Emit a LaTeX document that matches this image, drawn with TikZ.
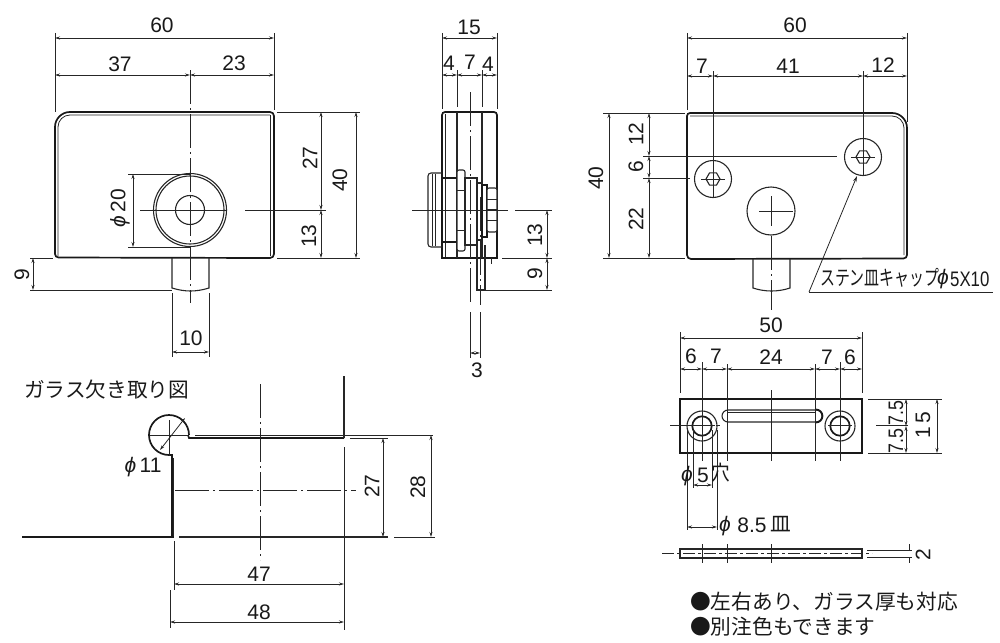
\documentclass[tikz,border=0pt]{standalone}
\usepackage{fontspec}
\setmainfont{Liberation Sans}
\newfontfamily\jpfont{Noto Sans CJK JP}
\usetikzlibrary{arrows.meta}
\newcommand{\myphi}{\textit{ϕ}}
\tikzset{
  thick line/.style={line width=1.7pt,black!90},
  mid line/.style={line width=1.1pt,black!85},
  thin line/.style={line width=0.8pt,black!85},
  axis line/.style={line width=0.8pt,black!85,dash pattern=on 34pt off 4pt on 2pt off 4pt},
  dimension/.style={line width=0.8pt,black!85,{Stealth[length=5pt,width=3pt]}-{Stealth[length=5pt,width=3pt]}},
  leader/.style={line width=0.8pt,black!85,-{Stealth[length=6pt,width=3.5pt]}},
  lbl/.style={inner sep=0pt,font=\fontsize{21}{24}\selectfont,text=black!90},
  vlbl/.style={lbl,rotate=90},
  jp/.style={inner sep=0pt,anchor=west,font=\fontsize{20.7}{24}\selectfont\jpfont,text=black!90}
}
\begin{document}
\begin{tikzpicture}[x=1pt,y=-1pt]
\useasboundingbox (0,0) rectangle (1000,642);
% ===== front view =====
\draw[thick line] (190,112) -- (70,112) arc[start angle=-90,end angle=-180,radius=15] -- (55,254) arc[start angle=-180,end angle=-270,radius=3.5] -- (270,258) arc[start angle=-270,end angle=-360,radius=4] -- (274,116) arc[start angle=0,end angle=-90,radius=4] -- (190,112);
\draw[thin line] (270,115) -- (70,115) arc[start angle=-90,end angle=-180,radius=12] -- (58,256);
\draw[thin line] (270,115) -- (270,256);
\draw[mid line] (190,210) circle[radius=36.5];
\draw[mid line] (190,210) circle[radius=34];
\draw[mid line] (190,210) circle[radius=14.5];
\draw[mid line] (172,258) -- (172,288) .. controls (185,292) and (196,292) .. (209,288) -- (209,258);
\draw[axis line] (190,70) -- (190,303);
\draw[thin line] (140,210) -- (226,210);
\draw[thin line] (245,210) -- (326,210);
\draw[dimension] (55,38) -- (274,38);
\draw[dimension] (55,75) -- (190,75);
\draw[dimension] (190,75) -- (274,75);
\draw[thin line] (55,33) -- (55,112);
\draw[thin line] (274,33) -- (274,110);
\draw[thin line] (277,112) -- (360,112);
\draw[thin line] (277,258) -- (360,258);
\draw[dimension] (321,112) -- (321,210);
\draw[dimension] (321,210) -- (321,258);
\draw[dimension] (356,112) -- (356,258);
\draw[thin line] (128,174) -- (190,174);
\draw[thin line] (128,247) -- (190,247);
\draw[dimension] (133,174) -- (133,247);
\draw[thin line] (30,258) -- (53,258);
\draw[thin line] (30,290) -- (172,290);
\draw[dimension] (33,258) -- (33,290);
\draw[thin line] (172,293) -- (172,357);
\draw[thin line] (209,293) -- (209,357);
\draw[dimension] (172,352) -- (209,352);
\node[lbl] (a60) at (162,25) {60};
\node[lbl] (a37) at (120,64) {37};
\node[lbl] (a23) at (234,63) {23};
\node[vlbl] (a27) at (310,158) {27};
\node[vlbl] (a40) at (340,180) {40};
\node[vlbl] (a13) at (309,236) {13};
\node[vlbl] (aphi) at (120,208) {\myphi\,20};
\node[vlbl] (a9) at (22,275) {9};
\node[lbl] (a10) at (191,338) {10};
% ===== side view =====
\draw[thick line] (442,258) -- (442,115) arc[start angle=-180,end angle=-90,radius=3] -- (494,112) arc[start angle=-90,end angle=0,radius=3] -- (497,258) -- cycle;
\draw[thin line] (445,114) -- (445,257);
\draw[mid line] (457,112) -- (457,258);
\draw[mid line] (482,112) -- (482,258);
\draw[mid line,rounded corners=3pt] (442,173) -- (428,173) -- (428,247) -- (442,247);
\draw[thin line] (432,174) -- (432,246);
\draw[thin line] (435,174) -- (435,246);
\draw[thick line] (442,178) -- (457,178);
\draw[thick line] (442,242) -- (457,242);
\draw[mid line,fill=white,rounded corners=2pt] (457,170) -- (465,170) -- (465,251) -- (457,251) -- cycle;
\draw[thin line] (457,190) -- (465,190);
\draw[thin line] (457,230) -- (465,230);
\draw[mid line,fill=white] (465,178) -- (477,178) -- (477,245) -- (465,245) -- cycle;
\draw[mid line,fill=white] (477,183) -- (482,183) -- (482,240) -- (477,240) -- cycle;
\draw[thick line,fill=white] (482,185) -- (487,185) -- (487,237) -- (482,237) -- cycle;
\draw[mid line,fill=white,rounded corners=2pt] (487,188) -- (497,188) -- (497,232) -- (487,232) -- cycle;
\draw[thin line] (487,199) -- (497,199);
\draw[thin line] (487,209) -- (497,209);
\draw[thin line] (487,220) -- (497,220);
\draw[mid line] (477,245) -- (477,290) -- (485,290) -- (485,245);
\draw[thin line] (491,258) -- (491,264);
\draw[axis line] (470,92) -- (470,305);
\draw[thin line] (470,312) -- (470,358);
\draw[axis line] (480,197) -- (480,305);
\draw[thin line] (480,312) -- (480,358);
\draw[thin line] (412,210) -- (508,210);
\draw[thin line] (515,210) -- (552,210);
\draw[thin line] (502,258) -- (552,258);
\draw[thin line] (485,290) -- (552,290);
\draw[dimension] (442,38) -- (497,38);
\draw[dimension] (442,75) -- (457,75);
\draw[dimension] (457,75) -- (482,75);
\draw[dimension] (482,75) -- (497,75);
\draw[thin line] (442,33) -- (442,109);
\draw[thin line] (497,33) -- (497,109);
\draw[thin line] (457,70) -- (457,107);
\draw[thin line] (482,70) -- (482,107);
\draw[dimension] (470,353) -- (480,353);
\draw[dimension] (547,210) -- (547,258);
\draw[dimension] (547,258) -- (547,290);
\node[lbl] (b15) at (469,27) {15};
\node[lbl] (b4a) at (449,63) {4};
\node[lbl] (b7) at (470,62) {7};
\node[lbl] (b4b) at (488,64) {4};
\node[lbl] (b3) at (477,370) {3};
\node[vlbl] (b13) at (535,235) {13};
\node[vlbl] (b9) at (535,274) {9};
% ===== rear view =====
\draw[thick line] (687,116) arc[start angle=-180,end angle=-90,radius=3] -- (892,113) arc[start angle=-90,end angle=0,radius=15] -- (907,255) arc[start angle=0,end angle=90,radius=3.5] -- (691,259) arc[start angle=90,end angle=180,radius=4] -- cycle;
\draw[thin line] (690,116) -- (892,116) arc[start angle=-90,end angle=0,radius=12] -- (904,255);
\draw[mid line] (713,179) circle[radius=18.5];
\draw[mid line] (863,157) circle[radius=18.5];
\draw[mid line] (771,211) circle[radius=24];
\foreach \cx/\cy in {713/179,863/157}{
  \draw[mid line] (\cx+7,\cy) -- (\cx+3.5,\cy-6.1) -- (\cx-3.5,\cy-6.1) -- (\cx-7,\cy) -- (\cx-3.5,\cy+6.1) -- (\cx+3.5,\cy+6.1) -- cycle;
}
\draw[mid line] (753,259) -- (753,288) .. controls (765,292) and (778,292) .. (790,288) -- (790,259);
\draw[thin line] (713,71) -- (713,198);
\draw[thin line] (863,71) -- (863,176);
\draw[thin line] (701,179) -- (725,179);
\draw[thin line] (851,157) -- (875,157);
\draw[thin line] (643,156) -- (837,156);
\draw[thin line] (643,178) -- (690,178);
\draw[thin line] (759,211) -- (793,211);
\draw[thin line] (771,196) -- (771,226);
\draw[axis line] (771,236) -- (771,310);
\draw[dimension] (687,38) -- (907,38);
\draw[dimension] (687,76) -- (713,76);
\draw[dimension] (713,76) -- (863,76);
\draw[dimension] (863,76) -- (907,76);
\draw[thin line] (687,33) -- (687,110);
\draw[thin line] (907,33) -- (907,122);
\draw[thin line] (603,113) -- (685,113);
\draw[thin line] (603,258) -- (685,258);
\draw[dimension] (609,113) -- (609,258);
\draw[dimension] (649,113) -- (649,156);
\draw[dimension] (649,156) -- (649,178);
\draw[dimension] (649,178) -- (649,258);
\coordinate (capend) at (857,176);
\coordinate (capbase) at (809,292);
\draw[leader] (capbase) -- (capend);
\draw[thin line] (capbase) -- (993,292);
\node[lbl] (c60) at (795,25) {60};
\node[lbl] (c7) at (702,66) {7};
\node[lbl] (c41) at (788,66) {41};
\node[lbl] (c12) at (883,65) {12};
\node[vlbl] (c40) at (596,178) {40};
\node[vlbl] (c12b) at (636,134) {12};
\node[vlbl] (c6) at (636,167) {6};
\node[vlbl] (c22) at (636,219) {22};
\node[jp,anchor=west,xscale=0.72] (ccap) at (820,278) {ステン皿キャップ};
\node[lbl,anchor=west] (cphi) at (937,279) {\myphi};
\node[lbl,anchor=west,xscale=0.8] (csize) at (950,279) {5X10};
% ===== plate =====
\draw[thick line] (680,399) rectangle (862,453);
\draw[thick line] (702,426) circle[radius=9.7];
\draw[mid line] (702,426) circle[radius=15];
\draw[thick line] (840,426) circle[radius=9.7];
\draw[mid line] (840,426) circle[radius=15];
\draw[mid line] (728,410) -- (816,410) arc[start angle=-90,end angle=90,radius=6] -- (728,422) arc[start angle=90,end angle=270,radius=6] -- cycle;
\draw[thick line] (816,409.5) arc[start angle=-90,end angle=90,radius=6.5];
\draw[thin line] (728,412) -- (816,412);
\draw[thin line] (670,425) -- (715,425);
\draw[thin line] (876,425) -- (908,425);
\draw[thin line] (716,425) -- (720,425);
\draw[thin line] (828,425) -- (852,425);
\foreach \xx in {702,840}{\draw[thin line] (\xx,362) -- (\xx,461);}
\foreach \xx in {727,815}{\draw[thin line] (\xx,364) -- (\xx,461);}
\draw[thin line] (771,390) -- (771,461);
\draw[dimension] (680,338) -- (862,338);
\draw[dimension] (680,369) -- (702,369);
\draw[dimension] (702,369) -- (727,369);
\draw[dimension] (727,369) -- (815,369);
\draw[dimension] (815,369) -- (840,369);
\draw[dimension] (840,369) -- (862,369);
\draw[thin line] (680,332) -- (680,393);
\draw[thin line] (862,332) -- (862,393);
\draw[thin line] (868,399) -- (942,399);
\draw[thin line] (868,453) -- (942,453);
\draw[dimension] (906,399) -- (906,426);
\draw[dimension] (906,426) -- (906,453);
\draw[dimension] (937,399) -- (937,453);
\draw[thin line] (687,430) -- (687,530);
\draw[thin line] (693,430) -- (693,488);
\draw[thin line] (712,430) -- (712,488);
\draw[thin line] (717,430) -- (717,530);
\draw[dimension] (693,485) -- (712,485);
\draw[dimension] (687,527) -- (717,527);
\node[lbl] (d50) at (771,325) {50};
\node[lbl] (d6a) at (691,356) {6};
\node[lbl] (d7a) at (716,356) {7};
\node[lbl] (d24) at (771,357) {24};
\node[lbl] (d7b) at (827,357) {7};
\node[lbl] (d6b) at (850,357) {6};
\node[lbl,rotate=90,xscale=0.85] (d75a) at (896,413) {7.5};
\node[lbl,rotate=90,xscale=0.85] (d75b) at (896,441) {7.5};
\node[vlbl] (d15) at (923,425) {1\,5};
\node[lbl] (dphi5) at (687,476) {\myphi};
\node[lbl] (d5) at (703,475) {5};
\node[jp,anchor=center,xscale=0.9] (dana) at (721,473) {穴};
\node[lbl] (dphi8) at (725,526) {\myphi};
\node[lbl] (d85) at (752,525) {8.5};
\node[jp,anchor=center] (dsara) at (781,524) {皿};
% plate side
\draw[mid line] (680,549) rectangle (862,558);
\draw[thin line,dash pattern=on 12pt off 3pt on 3pt off 3pt] (662,553) -- (872,553);
\foreach \xx in {702,727,771}{\draw[thin line] (\xx,544) -- (\xx,563);}
\draw[thin line] (867,550) -- (912,550);
\draw[thin line] (867,557) -- (912,557);
\draw[thin line] (909,544) -- (909,550);
\draw[thin line] (909,557) -- (909,563);
\node[vlbl] (d2) at (923,555) {2};
\node[jp] (note1) at (690,602) {●左右あり、ガラス厚も対応};
\node[jp] (note2) at (690,627) {●別注色もできます};
% ===== glass notch =====
\node[jp] (gtitle) at (24,390) {ガラス欠き取り図};
\draw[thick line] (189,435) arc[start angle=0,end angle=-270,radius=20] -- (172,455) -- (172,537);
\draw[mid line] (173.5,458) -- (173.5,537);
\draw[thick line] (188,435) -- (189,438) -- (344,438);
\draw[thin line] (195,435) -- (433,435);
\draw[mid line] (344,376) -- (344,438);
\draw[thin line] (344,447) -- (344,630);
\draw[thick line] (22,537) -- (174,537);
\draw[mid line] (179,537) -- (388,537);
\draw[thin line] (394,537) -- (435,537);
\draw[thin line] (350,438) -- (388,438);
\draw[axis line] (260,384) -- (260,560);
\draw[axis line] (175,490) -- (356,490);
\draw[thin line] (150,435) -- (188,435);
\draw[thin line] (169,420) -- (169,456);
\draw[dimension] (160,450) -- (185,418);
\draw[thin line] (174,541) -- (174,590);
\draw[thin line] (170,590) -- (170,628);
\draw[dimension] (383,438) -- (383,537);
\draw[dimension] (431,435) -- (431,537);
\draw[dimension] (174,584) -- (344,584);
\draw[dimension] (170,622) -- (344,622);
\node[lbl] (gphi) at (143,467) {\myphi\,11};
\node[vlbl] (g27) at (372,486) {27};
\node[vlbl] (g28) at (418,487) {28};
\node[lbl] (g47) at (259,574) {47};
\node[lbl] (g48) at (259,612) {48};
\end{tikzpicture}
\end{document}
